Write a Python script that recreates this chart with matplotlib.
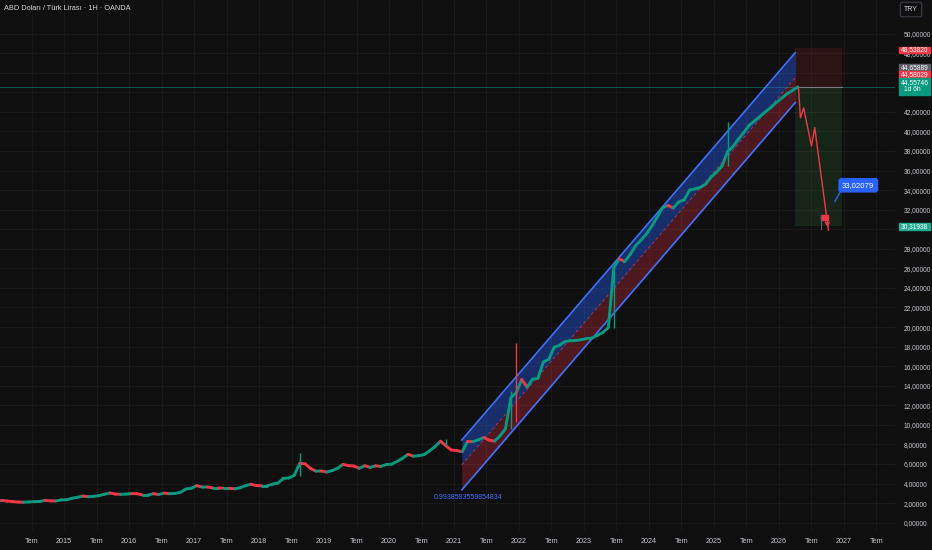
import numpy as np
import pandas as pd
import matplotlib
matplotlib.use("Agg")
import matplotlib.pyplot as plt
from matplotlib.patches import Rectangle
from matplotlib.collections import LineCollection
from matplotlib import transforms

# monthly closes USD/TRY, Jan 2014 .. Apr 2026
closes = [
    2.27, 2.21, 2.15, 2.11, 2.09, 2.12, 2.15, 2.17, 2.28, 2.23, 2.22, 2.33,
    2.34, 2.50, 2.60, 2.72, 2.65, 2.69, 2.77, 2.91, 3.03, 2.92, 2.90, 2.92,
    2.97, 2.96, 2.83, 2.83, 2.96, 2.88, 3.02, 2.96, 2.99, 3.10, 3.44, 3.52,
    3.78, 3.64, 3.65, 3.55, 3.55, 3.52, 3.52, 3.46, 3.57, 3.78, 3.93, 3.79,
    3.77, 3.77, 3.94, 4.05, 4.53, 4.57, 4.84, 6.05, 6.02, 5.55, 5.27, 5.28,
    5.18, 5.32, 5.56, 5.96, 5.84, 5.79, 5.56, 5.82, 5.65, 5.81, 5.75, 5.95,
    5.98, 6.26, 6.58, 6.99, 6.80, 6.85, 6.96, 7.35, 7.77, 8.33, 7.87, 7.43,
    7.37, 7.25, 8.30, 8.28, 8.47, 8.71, 8.43, 8.34, 8.87, 9.60, 12.79, 13.30,
    14.64, 13.86, 14.67, 14.76, 16.43, 16.70, 17.94, 18.15, 18.53, 18.60, 18.63, 18.71,
    18.82, 18.88, 19.16, 19.45, 19.97, 26.05, 26.98, 26.69, 27.40, 28.28, 28.88, 29.50,
    30.30, 31.22, 32.21, 32.43, 32.18, 32.79, 33.02, 34.00, 34.13, 34.29, 34.63, 35.36,
    35.85, 36.48, 37.95, 38.45, 39.20, 39.89, 40.63, 41.08, 41.54, 42.01, 42.45, 42.97,
    43.40, 43.85, 44.20, 44.56,
]
first_open = 2.18

# big wicks
wick_dates = ["2018-08", "2020-11", "2021-11", "2021-12", "2023-06", "2025-03"]
wick_highs = [7.10, 8.58, 13.50, 18.36, 26.20, 41.00]
wick_lows = [4.80, 7.80, 9.60, 10.25, 19.90, 36.50]
wick_up = [True, True, True, False, True, True]

# regression channel
chan_t = [2021.12, 2026.25]
chan_mid = [5.9, 45.5]
chan_dev = 2.55
chan_label = "0.9938583559854834"

# short position tool
pos_t = [2026.25, 2026.97]
pos_stop = 48.5382
pos_entry = 44.58029
pos_target = 30.31938
last_price = 44.55746

# forecast path
path_t = [2026.30, 2026.33, 2026.38, 2026.50, 2026.55, 2026.76]
path_p = [44.45, 41.40, 42.40, 38.50, 40.40, 29.90]
callout_value = "33,02079"

BG = "#0f0f0f"
GREEN = "#089981"
RED = "#f23645"
BLUE = "#2962ff"
TXT = "#c3c5cc"
plt.rcParams["font.family"] = ["Liberation Sans", "DejaVu Sans"]

fig = plt.figure(figsize=(9.32, 5.50), dpi=100, facecolor=BG)
ax = fig.add_axes([0, 20 / 550, 895 / 932, 530 / 550], facecolor=BG)

months = pd.date_range("2014-01-01", periods=len(closes), freq="MS")
t = np.array(months.year + (months.month - 0.5) / 12)
c = np.array(closes)
o = np.array([first_open] + closes[:-1])
tt = np.concatenate([[t[0] - 1 / 12], t])
segs = [[(tt[i], o[i]), (tt[i + 1], c[i])] for i in range(len(c))]
cols = [GREEN if c[i] >= o[i] else RED for i in range(len(c))]
ax.add_collection(LineCollection(segs, colors=cols, linewidths=2.1, capstyle="round",
                                 zorder=4))

wd = pd.to_datetime(wick_dates)
wt = wd.year + (wd.month - 0.5) / 12
ax.vlines(wt, wick_lows, wick_highs, color=[GREEN if u else RED for u in wick_up],
          lw=1.0, zorder=4)

# channel
mid = np.array(chan_mid)
ax.fill_between(chan_t, mid, mid + chan_dev, color=BLUE, alpha=0.38, lw=0, zorder=2)
ax.fill_between(chan_t, mid - chan_dev, mid, color=RED, alpha=0.28, lw=0, zorder=2)
ax.plot(chan_t, mid + chan_dev, color="#3d72ff", lw=1.2, zorder=3)
ax.plot(chan_t, mid - chan_dev, color="#3d72ff", lw=1.2, zorder=3)
ax.plot(chan_t, mid, color=RED, lw=0.7, ls=(0, (3, 3)), alpha=0.7, zorder=3)
ax.text(chan_t[0] + 0.1, mid[0] - chan_dev - 0.75, chan_label, color="#3d72ff",
        fontsize=5, ha="center", va="center")

# position tool
ax.add_patch(Rectangle((pos_t[0], pos_entry), pos_t[1] - pos_t[0], pos_stop - pos_entry,
                       color=RED, alpha=0.13, lw=0, zorder=1))
ax.add_patch(Rectangle((pos_t[0], pos_target), pos_t[1] - pos_t[0], pos_entry - pos_target,
                       color="#4caf50", alpha=0.14, lw=0, zorder=1))
ax.plot(pos_t, [pos_entry, pos_entry], color="#787b86", lw=0.8, zorder=2)
ax.axhline(last_price, color=GREEN, lw=0.6, alpha=0.6, zorder=1)

# forecast arrow
ax.plot(path_t, path_p, color=RED, lw=1.0, zorder=5)
ax.annotate("", xy=(path_t[-1], path_p[-1]), xytext=(path_t[-2] + 0.18, path_p[-2] - 9),
            arrowprops=dict(arrowstyle="->", color=RED, lw=1.0, mutation_scale=7), zorder=5)
ax.add_patch(Rectangle((2026.65, 30.9), 0.11, 0.6, color=RED, zorder=6))
ax.plot([2026.64, 2026.64], [30.0, 31.5], color="#5d606b", lw=0.8, zorder=6)

# callout
ax.plot([2026.86, 2026.95], [32.85, 33.9], color=BLUE, lw=1.0, zorder=6)
ax.text(2027.22, 34.5, callout_value, color="white", fontsize=5.6, ha="center",
        va="center", zorder=7,
        bbox=dict(boxstyle="round,pad=0.4,rounding_size=0.3", fc=BLUE, ec=BLUE))

# axes
ax.set_xlim(2014.015, 2027.785)
ax.set_ylim(-0.75, 53.44)
for s in ax.spines.values():
    s.set_visible(False)

yt = np.arange(0, 51, 2)
hidden = (30, 44, 46)  # covered by the price labels
ax.yaxis.tick_right()
ax.set_yticks(yt)
ax.set_yticklabels(["" if v in hidden else f"{v:.5f}".replace(".", ",") for v in yt])
xt = np.arange(2014.5, 2027.6, 0.5)
ax.set_xticks(xt)
ax.set_xticklabels(["Tem" if v % 1 else str(int(v)) for v in xt])
ax.tick_params(axis="y", length=0, pad=6.5, labelsize=4.8, labelcolor=TXT)
ax.tick_params(axis="x", length=0, pad=6, labelsize=5.2, labelcolor=TXT)
ax.grid(color="#1b1b1b", lw=0.6, zorder=0)
ax.set_axisbelow(True)

# price labels on the scale
tr = transforms.blended_transform_factory(ax.transAxes, ax.transData)
labels = [
    ("48,53820", 48.33, 0.7, RED),
    ("44,65889", 46.52, 0.7, "#5d606b"),
    ("44,58029", 45.82, 0.7, RED),
    ("30,31938", 30.27, 0.7, "#22ab94"),
]
for txt, y, hh, col in labels:
    ax.add_patch(Rectangle((1.005, y - hh / 2), 0.034, hh, transform=tr, color=col,
                           clip_on=False, zorder=10))
    ax.text(1.0222, y, txt, transform=tr, color="white", fontsize=4.8, ha="center",
            va="center", clip_on=False, zorder=11)
ax.add_patch(Rectangle((1.005, 43.7), 0.034, 1.77, transform=tr, color=GREEN,
                       clip_on=False, zorder=10))
ax.text(1.0222, 45.0, "44,55746", transform=tr, color="white", fontsize=4.8,
        ha="center", va="center", clip_on=False, zorder=11)
ax.text(1.0105, 44.25, "1d 6h", transform=tr, color="white", fontsize=4.8,
        ha="left", va="center", clip_on=False, zorder=11)

fig.text(4 / 932, 1 - 9 / 550, "ABD Doları / Türk Lirası · 1H · OANDA", color="#d1d4dc",
         fontsize=5.3, va="center", ha="left")
fig.text(911 / 932, 1 - 9.5 / 550, "TRY", color="#d1d4dc", fontsize=5, va="center",
         ha="center", bbox=dict(boxstyle="round,pad=0.55,rounding_size=0.3", fc=BG,
                                ec="#434651", lw=0.7))

fig.savefig("out.png", dpi=100, facecolor=BG)
